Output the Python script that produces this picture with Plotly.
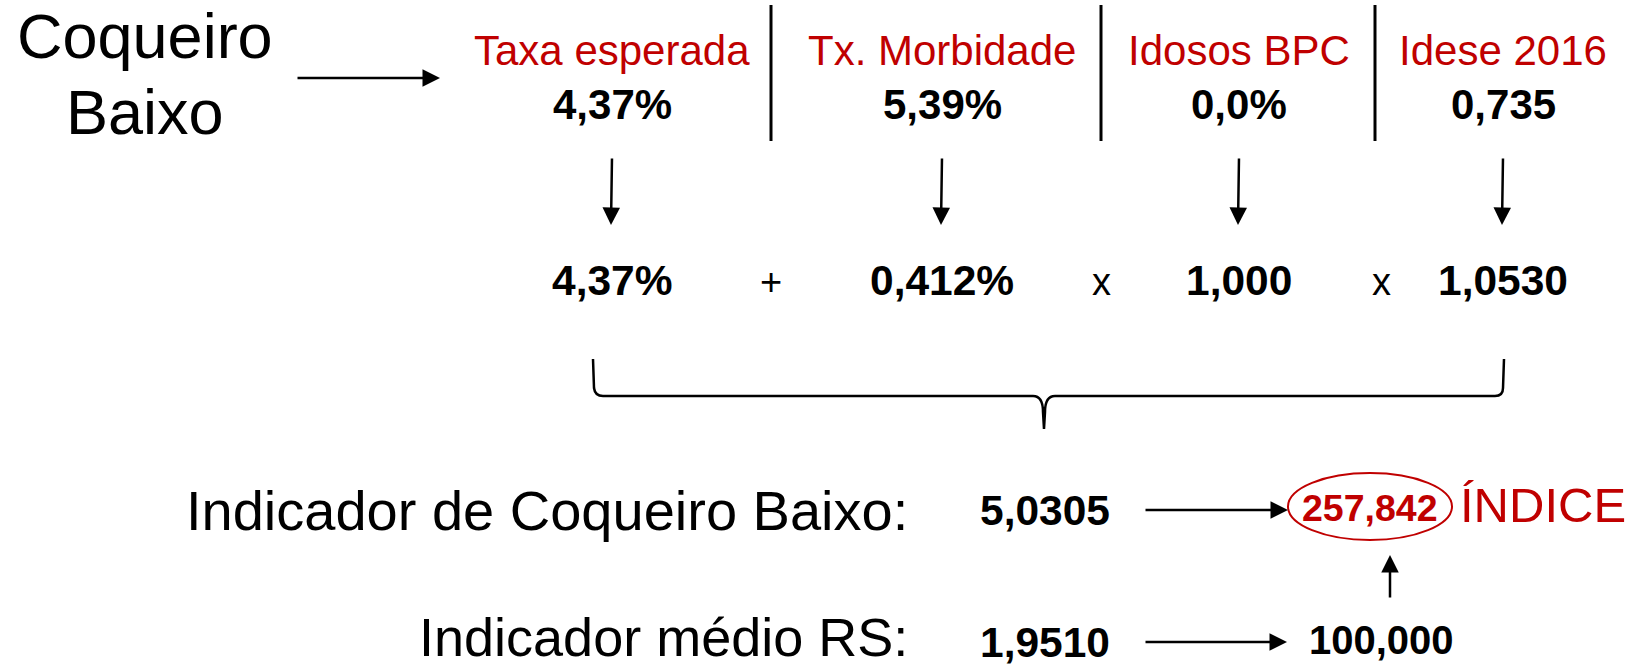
import plotly.graph_objects as go

# ---- data ----
municipio = ["Coqueiro", "Baixo"]
header_labels = ["Taxa esperada", "Tx. Morbidade", "Idosos BPC", "Idese 2016"]
header_values = ["4,37%", "5,39%", "0,0%", "0,735"]
factor_values = ["4,37%", "0,412%", "1,000", "1,0530"]
operators = ["+", "x", "x"]
indicador_label = "Indicador de Coqueiro Baixo:"
indicador_value = "5,0305"
indice_value = "257,842"
indice_label = "ÍNDICE"
media_label = "Indicador médio RS:"
media_value = "1,9510"
media_index = "100,000"

W, H = 1641, 669
FONT = "Liberation Sans, Arial, sans-serif"
RED = "#C00000"
BLACK = "#000000"

col_x = [612, 942, 1239, 1503]
div_x = [771, 1101, 1375]
op_x = [771, 1101, 1381]

fig = go.Figure()
ann = []
shapes = []

def text(x, y, s, size, color=BLACK, bold=False, xanchor="center"):
    ann.append(dict(x=x, y=y, xref="x", yref="y", text=("<b>%s</b>" % s) if bold else s,
                    showarrow=False, xanchor=xanchor, yanchor="middle",
                    font=dict(family=FONT, size=size, color=color)))

def arrow(x0, y0, x1, y1, width=2.5):
    ann.append(dict(x=x1, y=y1, ax=x0, ay=y0, xref="x", yref="y", axref="x", ayref="y",
                    text="", showarrow=True, arrowhead=2, arrowsize=1.4, arrowwidth=width,
                    arrowcolor=BLACK, standoff=0, startstandoff=0))

# municipality name
text(145, 36, municipio[0], 63)
text(145, 112, municipio[1], 63)
arrow(296, 78, 440, 78)

# headers
for cx, lab, val in zip(col_x, header_labels, header_values):
    text(cx, 50, lab, 42, color=RED)
    text(cx, 104, val, 42, bold=True)
    arrow(cx, 157, cx - 1, 225)
for dx in div_x:
    shapes.append(dict(type="line", xref="x", yref="y", x0=dx, x1=dx, y0=5, y1=141,
                       line=dict(color=BLACK, width=3)))

# factors row
for cx, val in zip(col_x, factor_values):
    text(cx, 280, val, 42.5, bold=True)
for ox, op in zip(op_x, operators):
    text(ox, 282, op, 38)

# brace
shapes.append(dict(type="path", xref="x", yref="y",
                   path="M 593 359 L 594 388 Q 595 396 603 396 L 1033 396 Q 1043 396 1043 412 L 1044 429 "
                        "L 1045 412 Q 1045 396 1055 396 L 1495 396 Q 1503 396 1503 388 L 1504 359",
                   line=dict(color=BLACK, width=2.5)))

# indicator row
text(910, 510, indicador_label, 56, xanchor="right")
text(1045, 510, indicador_value, 42.5, bold=True)
arrow(1144, 510, 1288, 510)
shapes.append(dict(type="circle", xref="x", yref="y", x0=1288, x1=1452, y0=473, y1=540,
                   line=dict(color=RED, width=2)))
text(1370, 508, indice_value, 37.5, color=RED, bold=True)
text(1458, 505, indice_label, 49, color=RED, xanchor="left")
arrow(1390, 599, 1390, 555)

# average row
text(910, 637, media_label, 54, xanchor="right")
text(1045, 642, media_value, 42.5, bold=True)
arrow(1144, 642, 1287, 642)
text(1381, 640, media_index, 40, bold=True)

fig.update_layout(
    width=W, height=H, margin=dict(l=0, r=0, t=0, b=0),
    paper_bgcolor="white", plot_bgcolor="white",
    xaxis=dict(range=[0, W], visible=False, fixedrange=True),
    yaxis=dict(range=[H, 0], visible=False, fixedrange=True),
    annotations=ann, shapes=shapes, showlegend=False,
)
fig.write_html("out.html", config={"displayModeBar": False},
               post_script="document.body.style.margin='0';document.body.style.overflow='hidden';")
